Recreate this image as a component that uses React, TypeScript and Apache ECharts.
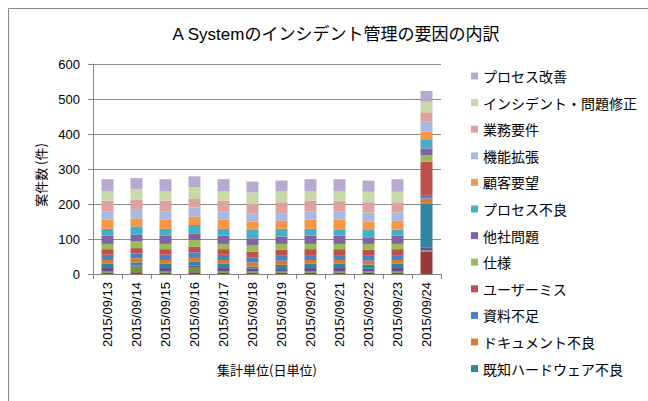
import React, { useEffect, useRef } from "react";
import * as echarts from "echarts";

const categories = [
  "2015/09/13", "2015/09/14", "2015/09/15", "2015/09/16", "2015/09/17", "2015/09/18",
  "2015/09/19", "2015/09/20", "2015/09/21", "2015/09/22", "2015/09/23", "2015/09/24",
];

const yTicks = [0, 100, 200, 300, 400, 500, 600];

// stacked series, bottom to top
const seriesNames = [
  "その他A",
  "その他B",
  "その他C",
  "既知ハードウェア不良",
  "ドキュメント不良",
  "資料不足",
  "ユーザーミス",
  "仕様",
  "他社問題",
  "プロセス不良",
  "顧客要望",
  "機能拡張",
  "業務要件",
  "インシデント・問題修正",
  "プロセス改善",
];

const otherA = [4, 5, 4, 5, 4, 4, 4, 4, 4, 4, 4, 64];
const otherB = [3, 16, 3, 13, 3, 3, 3, 4, 3, 4, 3, 3];
const otherC = [10, 3, 10, 6, 10, 8, 7, 9, 10, 7, 10, 8];
const knownHardware = [12, 9, 12, 12, 12, 6, 12, 12, 12, 12, 12, 127];
const documentDefect = [11, 12, 11, 10, 11, 12, 12, 11, 11, 11, 11, 14];
const materialLack = [15, 14, 15, 16, 15, 15, 14, 14, 14, 14, 14, 10];
const userMistake = [16, 15, 16, 16, 16, 16, 17, 17, 17, 17, 17, 95];
const specification = [15, 19, 15, 19, 15, 19, 17, 15, 15, 17, 15, 19];
const otherCompany = [23, 19, 23, 19, 24, 19, 21, 24, 24, 19, 24, 19];
const processDefect = [20, 24, 20, 24, 19, 24, 22, 19, 16, 21, 17, 26];
const customerRequest = [26, 23, 26, 24, 26, 24, 23, 26, 29, 24, 25, 22];
const featureExtension = [23, 27, 23, 26, 23, 24, 22, 23, 23, 26, 24, 28];
const businessRequirement = [32, 26, 32, 26, 32, 28, 31, 32, 30, 29, 29, 27];
const incidentFix = [26, 31, 26, 32, 26, 31, 31, 26, 28, 30, 30, 30];
const processImprovement = [35, 31, 35, 31, 35, 31, 31, 35, 35, 32, 36, 31];

const seriesValues = [
  otherA, otherB, otherC, knownHardware, documentDefect, materialLack, userMistake,
  specification, otherCompany, processDefect, customerRequest, featureExtension,
  businessRequirement, incidentFix, processImprovement,
];

const seriesColors = [
  "#983A37", "#76923C", "#64508A", "#31859C", "#D97A31", "#4F81BD", "#C0504D",
  "#9BBB59", "#8064A2", "#4BACC6", "#F79646", "#A9B9DD", "#DCA2A1", "#C8D9A8", "#B8AACE",
];

const legendItems = [
  "プロセス改善",
  "インシデント・問題修正",
  "業務要件",
  "機能拡張",
  "顧客要望",
  "プロセス不良",
  "他社問題",
  "仕様",
  "ユーザーミス",
  "資料不足",
  "ドキュメント不良",
  "既知ハードウェア不良",
];

const FONT = "'Liberation Sans', 'Noto Sans CJK JP', sans-serif";
const JP_FONT = "'Noto Sans CJK JP', 'Liberation Sans', sans-serif";

export default function App() {
  const ref = useRef<HTMLDivElement>(null);

  useEffect(() => {
    if (!ref.current) return;
    const chart = echarts.init(ref.current, undefined, { renderer: "svg" });
    chart.setOption({
      animation: false,
      backgroundColor: "#ffffff",
      title: {
        text: "A Systemのインシデント管理の要因の内訳",
        left: 331,
        textAlign: "center",
        top: 21,
        textStyle: { fontFamily: FONT, fontSize: 17, fontWeight: "normal", color: "#000" },
      },
      graphic: [
        {
          type: "polyline",
          shape: { points: [[8.5, 420], [8.5, 8.5], [660, 8.5]] },
          style: { stroke: "#8a8a8a", lineWidth: 1, fill: "none" },
          silent: true,
        },
      ],
      legend: {
        data: legendItems,
        orient: "vertical",
        left: 466,
        top: 64,
        itemWidth: 7,
        itemHeight: 7,
        itemGap: 12.6,
        icon: "rect",
        textStyle: { fontFamily: JP_FONT, fontSize: 14, color: "#000", lineHeight: 14 },
      },
      grid: { left: 93, right: 207, top: 64, bottom: 127, containLabel: false },
      xAxis: {
        type: "category",
        data: categories,
        name: "集計単位(日単位)",
        nameLocation: "middle",
        nameGap: 89,
        nameTextStyle: { fontFamily: JP_FONT, fontSize: 13, color: "#000" },
        axisLine: { lineStyle: { color: "#868686", width: 1 } },
        axisTick: { show: true, length: 5, lineStyle: { color: "#868686" } },
        axisLabel: { rotate: 90, fontFamily: FONT, fontSize: 13, color: "#000", margin: 8, interval: 0 },
      },
      yAxis: {
        type: "value",
        min: yTicks[0],
        max: yTicks[yTicks.length - 1],
        interval: 100,
        name: "案件数 (件)",
        nameLocation: "middle",
        nameRotate: 90,
        nameGap: 46,
        nameTextStyle: { fontFamily: JP_FONT, fontSize: 13, color: "#000", padding: [0, 0, 0, -12] },
        axisLine: { show: true, lineStyle: { color: "#868686", width: 1 } },
        axisTick: { show: true, length: 5, lineStyle: { color: "#868686" } },
        axisLabel: { fontFamily: FONT, fontSize: 13, color: "#000", margin: 13 },
        splitLine: { show: true, lineStyle: { color: "#8c8c8c", width: 1 } },
      },
      series: seriesNames.map((name, i) => ({
        name,
        type: "bar",
        stack: "total",
        barWidth: 12,
        data: seriesValues[i],
        itemStyle: { color: seriesColors[i] },
      })),
    });
    return () => chart.dispose();
  }, []);

  return (
    <div
      ref={ref}
      style={{ position: "fixed", left: 0, top: 0, width: 648, height: 401 }}
    />
  );
}
